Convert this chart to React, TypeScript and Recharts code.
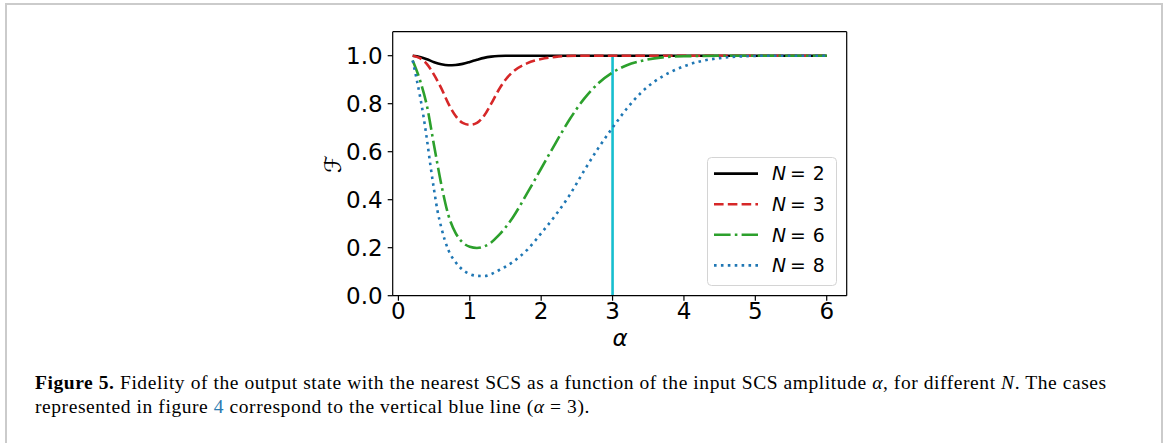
import React from "react";
import { LineChart, Line, XAxis, YAxis, Legend, ReferenceLine } from "recharts";

// fidelity F vs input amplitude alpha
const alphaN2 = [0.2, 0.3, 0.4, 0.5, 0.6, 0.7, 0.8, 0.9, 1.0, 1.1, 1.2, 1.3, 1.4, 1.5, 2.0, 3.0, 4.0, 5.0, 6.0];
const fidelityN2 = [1.0, 0.995, 0.985, 0.973, 0.964, 0.96, 0.961, 0.966, 0.974, 0.983, 0.991, 0.996, 0.999, 1.0, 1.0, 1.0, 1.0, 1.0, 1.0];

const alphaN3 = [0.2, 0.3, 0.4, 0.5, 0.6, 0.7, 0.8, 0.9, 1.0, 1.1, 1.2, 1.3, 1.4, 1.5, 1.6, 1.8, 2.0, 2.2, 2.5, 3.0, 4.0, 5.0, 6.0];
const fidelityN3 = [1.0, 0.99, 0.965, 0.92, 0.865, 0.8, 0.75, 0.72, 0.712, 0.72, 0.75, 0.8, 0.855, 0.9, 0.932, 0.968, 0.986, 0.995, 1.0, 1.0, 1.0, 1.0, 1.0];

const alphaN6 = [0.2, 0.3, 0.4, 0.5, 0.6, 0.7, 0.8, 0.9, 1.0, 1.1, 1.2, 1.3, 1.4, 1.6, 1.8, 2.0, 2.2, 2.4, 2.6, 2.8, 3.0, 3.2, 3.4, 3.7, 4.0, 5.0, 6.0];
const fidelityN6 = [0.98, 0.9, 0.79, 0.625, 0.465, 0.336, 0.262, 0.222, 0.204, 0.199, 0.205, 0.222, 0.25, 0.325, 0.425, 0.53, 0.635, 0.735, 0.82, 0.885, 0.93, 0.96, 0.978, 0.993, 0.998, 1.0, 1.0];

const alphaN8 = [0.2, 0.25, 0.3, 0.35, 0.4, 0.45, 0.5, 0.55, 0.6, 0.7, 0.8, 0.9, 1.0, 1.1, 1.2, 1.3, 1.4, 1.6, 1.8, 2.0, 2.2, 2.4, 2.6, 2.8, 3.0, 3.2, 3.4, 3.6, 3.8, 4.0, 4.25, 4.5, 4.8, 5.2, 6.0];
const fidelityN8 = [0.98, 0.91, 0.835, 0.75, 0.65, 0.54, 0.44, 0.35, 0.285, 0.19, 0.14, 0.108, 0.09, 0.083, 0.082, 0.09, 0.105, 0.14, 0.19, 0.26, 0.335, 0.42, 0.52, 0.615, 0.7, 0.78, 0.846, 0.895, 0.93, 0.956, 0.978, 0.99, 0.997, 1.0, 1.0];

// vertical marker at alpha = 3 (cases of figure 4)
const alphaMarker = [3, 3];
const fidelityMarker = [0, 1];

const xTicks = [0, 1, 2, 3, 4, 5, 6];
const yTicks = [0, 0.2, 0.4, 0.6, 0.8, 1.0];
const xDomain = [-0.08, 6.28];
const yDomain = [0, 1.1];

const toPoints = (xs: number[], ys: number[]) => xs.map((x, i) => ({ alpha: x, fidelity: ys[i] }));

const series = [
  { n: 2, data: toPoints(alphaN2, fidelityN2), color: "#000000", dash: undefined as string | undefined },
  { n: 3, data: toPoints(alphaN3, fidelityN3), color: "#d62728", dash: "9.6 4.2" },
  { n: 6, data: toPoints(alphaN6, fidelityN6), color: "#2ca02c", dash: "16.6 4.2 2.6 4.2" },
  { n: 8, data: toPoints(alphaN8, fidelityN8), color: "#1f77b4", dash: "2.6 4.3" },
];

const FONT = "'DejaVu Sans', sans-serif";
const LW = 2.6;

function LegendBox() {
  return (
    <svg width={131} height={130} style={{ display: "block", overflow: "visible" }}>
      <rect x={0.5} y={0.5} width={129} height={128} rx={4} fill="#ffffff" fillOpacity={0.8} stroke="#d4d4d4" />
      {series.map((s, i) => {
        const cy = 16.6 + i * 30.6;
        return (
          <g key={s.n}>
            <line x1={7} x2={51} y1={cy} y2={cy} stroke={s.color} strokeWidth={LW} strokeDasharray={s.dash} />
            <text x={65} y={cy + 6.7} fontFamily={FONT} fontSize={18.8} fill="#000">
              <tspan fontStyle="italic">N</tspan>
              <tspan dx={4}>=</tspan>
              <tspan dx={7}>{s.n}</tspan>
            </text>
          </g>
        );
      })}
    </svg>
  );
}

export default function App() {
  return (
    <div style={{ position: "absolute", left: 0, top: 0, width: 1163, height: 443, background: "#fff", overflow: "hidden" }}>
      <div
        style={{
          position: "absolute",
          left: 5,
          top: 3,
          width: 1154,
          height: 460,
          borderLeft: "2px solid #cbcbcb",
          borderTop: "2px solid #cbcbcb",
          borderRight: "2px solid #cbcbcb",
        }}
      />
      <div style={{ position: "absolute", left: 0, top: 0 }}>
        <LineChart width={1163} height={443} margin={{ top: 31.7, right: 316.3, bottom: 107.3, left: 332.7 }}>
          <XAxis
            dataKey="alpha"
            type="number"
            domain={xDomain}
            ticks={xTicks}
            allowDataOverflow
            tick={{ fill: "#000", fontSize: 23, fontFamily: FONT }}
            tickSize={5}
            tickMargin={2}
            axisLine={{ stroke: "#000", strokeWidth: 1.2 }}
            tickLine={{ stroke: "#000", strokeWidth: 1.2 }}
            height={40}
          />
          <YAxis
            type="number"
            domain={yDomain}
            ticks={yTicks}
            allowDataOverflow
            tickFormatter={(v: number) => v.toFixed(1)}
            tick={{ fill: "#000", fontSize: 23, fontFamily: FONT }}
            tickSize={5}
            tickMargin={5}
            axisLine={{ stroke: "#000", strokeWidth: 1.2 }}
            tickLine={{ stroke: "#000", strokeWidth: 1.2 }}
            width={60}
          />
          {/* top and right spines */}
          <ReferenceLine y={yDomain[1]} stroke="#000" strokeWidth={1.2} />
          <ReferenceLine x={xDomain[1]} stroke="#000" strokeWidth={1.2} />
          <Line
            data={toPoints(alphaMarker, fidelityMarker)}
            dataKey="fidelity"
            stroke="#17becf"
            strokeWidth={2.6}
            dot={false}
            activeDot={false}
            legendType="none"
            isAnimationActive={false}
          />
          {series.map((s) => (
            <Line
              key={s.n}
              data={s.data}
              dataKey="fidelity"
              name={`N = ${s.n}`}
              type="monotone"
              stroke={s.color}
              strokeWidth={LW}
              strokeDasharray={s.dash}
              dot={false}
              activeDot={false}
              isAnimationActive={false}
            />
          ))}
          <Legend
            layout="horizontal"
            verticalAlign="middle"
            align="center"
            content={() => <LegendBox />}
            wrapperStyle={{ left: 707, top: 156.5, width: 131, height: 130 }}
          />
        </LineChart>
      </div>
      <div style={{ position: "absolute", left: 333, top: 163.7, width: 0, height: 0 }}>
        <div
          style={{
            position: "absolute",
            left: 0,
            top: 0,
            transform: "translate(-50%, -50%) rotate(-90deg)",
            fontFamily: FONT,
            fontSize: 23,
            fontStyle: "italic",
            lineHeight: "23px",
            whiteSpace: "nowrap",
          }}
        >
          ℱ
        </div>
      </div>
      <div
        style={{
          position: "absolute",
          left: 620,
          top: 338,
          transform: "translate(-50%, -50%)",
          fontFamily: FONT,
          fontSize: 23,
          fontStyle: "italic",
          lineHeight: "23px",
        }}
      >
        α
      </div>
      <div
        style={{
          position: "absolute",
          left: 35,
          top: 371.4,
          fontFamily: "'Liberation Serif', serif",
          fontSize: 19.5,
          letterSpacing: 0.57,
          lineHeight: "24px",
          color: "#000",
          whiteSpace: "nowrap",
        }}
      >
        <div>
          <b>Figure 5.</b> Fidelity of the output state with the nearest SCS as a function of the input SCS amplitude{" "}
          <i>α</i>, for different <i>N</i>. The cases
        </div>
        <div>
          represented in figure <span style={{ color: "#2a7ab0" }}>4</span> correspond to the vertical blue line (
          <i>α</i> = 3).
        </div>
      </div>
    </div>
  );
}
